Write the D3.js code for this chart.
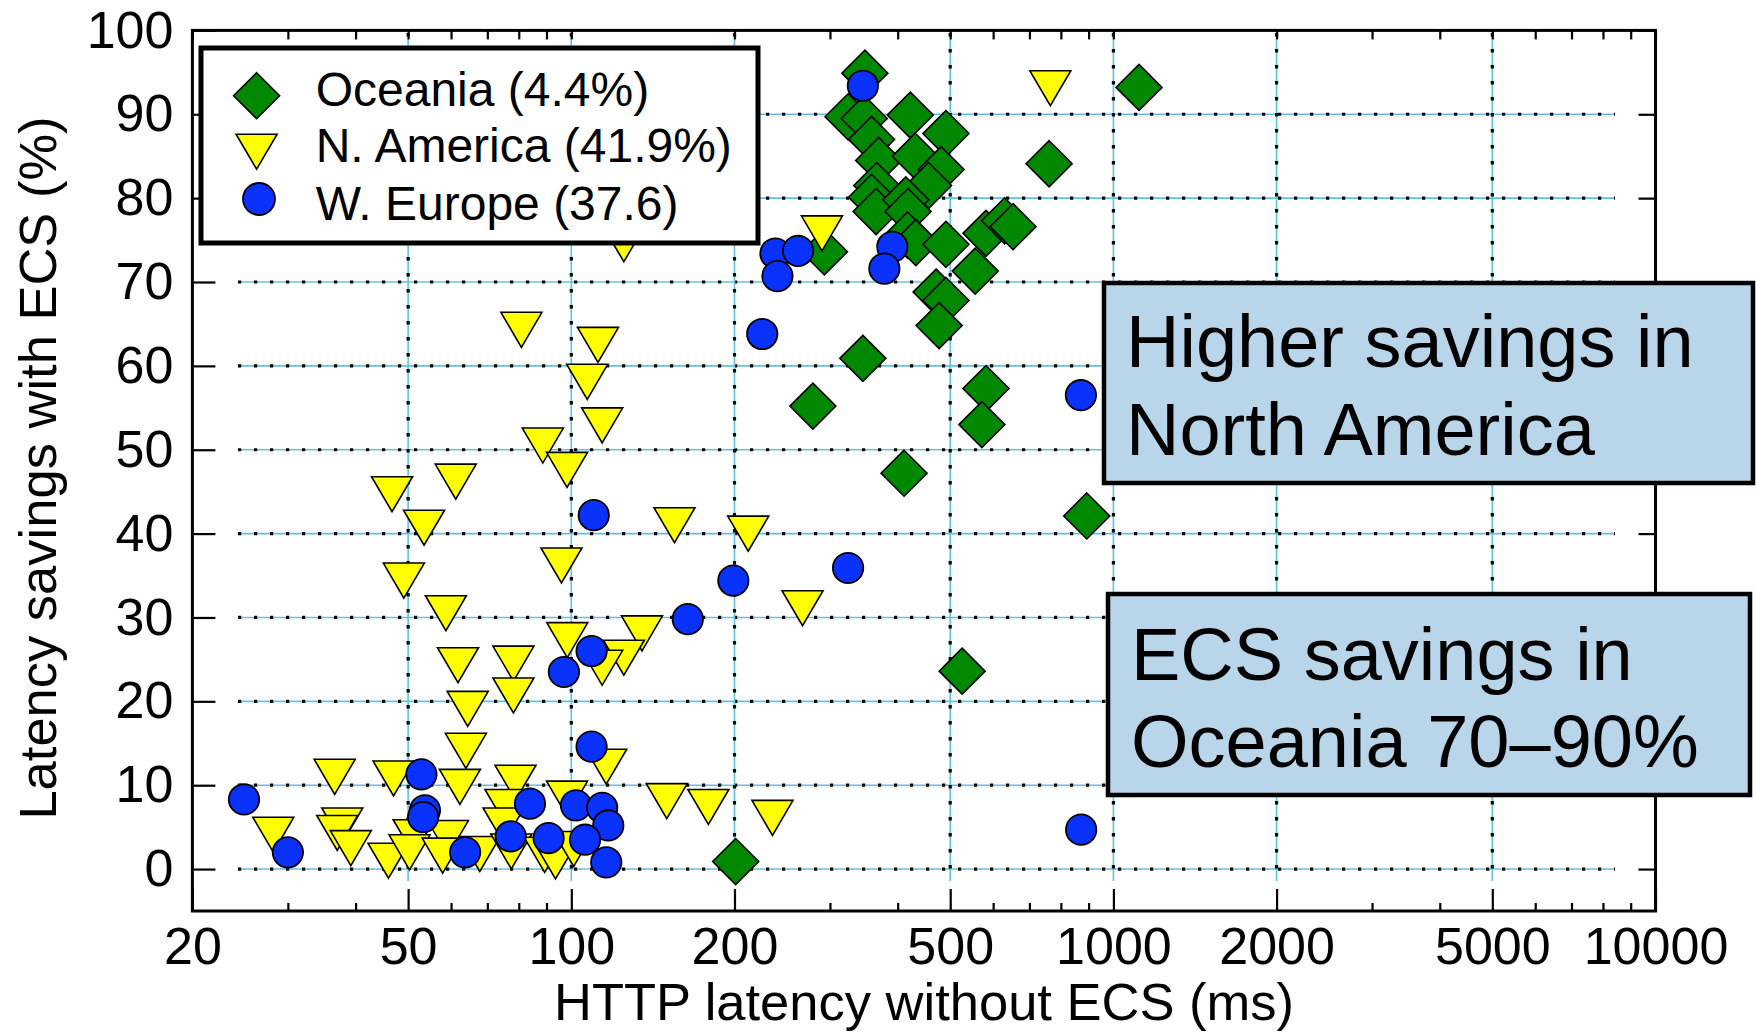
<!DOCTYPE html>
<html>
<head>
<meta charset="utf-8">
<script src="https://cdn.jsdelivr.net/npm/d3@7/dist/d3.min.js"></script>
<style>
  html, body { margin: 0; padding: 0; background: #fff; }
  svg { display: block; font-family: "Liberation Sans", Arial, Helvetica, sans-serif; }
</style>
</head>
<body>
<svg id="chart" width="1756" height="1035"></svg>
<script>
// [HTTP latency without ECS (ms), latency savings with ECS (%)]
const oceania = [
  [348, 94.9], [324, 89.7], [347, 89.5], [358, 87.0], [422, 89.9], [491, 87.7],
  [369, 84.5], [431, 85.0], [481, 83.4], [456, 81.5], [366, 81.5], [358, 80.1],
  [365, 78.4], [414, 79.8], [418, 78.4], [417, 75.6], [432, 74.7], [491, 74.5],
  [582, 75.8], [630, 77.3], [653, 76.6], [556, 71.3], [471, 68.8], [491, 67.8],
  [477, 64.8], [345, 60.9], [293, 73.6], [761, 84.1], [1115, 93.2], [279, 55.2],
  [582, 57.3], [572, 53.0], [411, 47.2], [893, 42.1], [526, 23.6], [201, 0.9]
];
const nAmerica = [
  [765, 93.1], [290, 75.8], [125, 74.5], [80.9, 64.3], [112, 62.5], [107, 58.1],
  [114, 52.9], [88.6, 50.5], [98.2, 47.6], [61.2, 46.2], [46.7, 44.7], [53.5, 40.7],
  [155, 41.0], [212, 40.0], [95.9, 36.2], [49.1, 34.4], [58.7, 30.5], [135, 28.1],
  [98.3, 27.3], [125, 25.2], [114, 24.0], [61.8, 24.3], [78.2, 24.5], [78.2, 20.7],
  [64.4, 19.1], [267, 31.1], [63.9, 14.1], [62.3, 9.8], [116, 12.2], [36.6, 11.0],
  [47.0, 10.8], [78.9, 10.3], [98.2, 8.4], [150, 8.1], [179, 7.4], [235, 6.1],
  [28.2, 4.1], [37.8, 5.2], [37.0, 4.3], [39.2, 2.5], [46.0, 1.0], [51.2, 3.8],
  [50.3, 2.0], [59.2, 3.7], [57.9, 1.6], [67.8, 1.8], [75.6, 7.4], [75.0, 5.2],
  [77.5, 2.1], [89.3, 1.7], [93.5, 0.9], [101, 2.4]
];
const wEurope = [
  [345, 93.4], [238, 73.4], [240, 70.7], [262, 73.7], [391, 74.2], [378, 71.6],
  [225, 63.8], [871, 56.5], [110, 42.2], [324, 35.9], [199, 34.4], [164, 29.8],
  [109, 26.0], [96.9, 23.5], [109, 14.6], [24.9, 8.3], [30.0, 2.0], [52.9, 11.3],
  [53.7, 7.0], [53.3, 6.2], [63.7, 2.0], [83.9, 7.8], [77.3, 3.9], [90.8, 3.7],
  [102, 7.6], [114, 7.3], [117, 5.2], [106, 3.5], [116, 0.8], [872, 4.7]
];

const xTickValues = [20, 50, 100, 200, 500, 1000, 2000, 5000, 10000];
const xTickLabels = ["20", "50", "100", "200", "500", "1000", "2000", "5000", "10000"];
const xMinorValues = [30, 40, 60, 70, 80, 90, 300, 400, 600, 700, 800, 900,
                      3000, 4000, 6000, 7000, 8000, 9000];
const yTickValues = [0, 10, 20, 30, 40, 50, 60, 70, 80, 90, 100];
const xGridValues = [50, 100, 200, 500, 1000, 2000, 5000];
const yGridValues = [0, 10, 20, 30, 40, 50, 60, 70, 80, 90];

const seriesNames = ["Oceania (4.4%)", "N. America (41.9%)", "W. Europe (37.6)"];
const xTitle = "HTTP latency without ECS (ms)";
const yTitle = "Latency savings with ECS (%)";
const noteNorthAmerica = ["Higher savings in", "North America"];
const noteOceania = ["ECS savings in", "Oceania 70\u201390%"];

// ---- layout ----
const frame = { left: 192.4, right: 1655.5, top: 30.4, bottom: 911 };
const x = d3.scaleLog().domain([20, 10000]).range([frame.left, frame.right]);
const y = d3.scaleLinear().domain([-5, 100]).range([frame.bottom, frame.top]);

const colors = { oceania: "#008800", america: "#ffff00", europe: "#0a32ff" };
const gridCyan = "#5cc3e4";

const svg = d3.select("#chart");

// ---- marker shapes ----
const diamondPath = r => `M0,${-r}L${r},0L0,${r}L${-r},0Z`;
const triDownPath = (hw, hh) => `M${-hw},${-hh}L${hw},${-hh}L0,${hh}Z`;

// ---- grid ----
const grid = svg.append("g");
yGridValues.forEach(v => {
  const yy = y(v);
  grid.append("line").attr("x1", 238).attr("x2", 1615).attr("y1", yy).attr("y2", yy)
    .attr("stroke", gridCyan).attr("stroke-width", 1.6);
  grid.append("line").attr("x1", 238).attr("x2", 1615).attr("y1", yy).attr("y2", yy)
    .attr("stroke", "#000").attr("stroke-width", 3.2).attr("stroke-dasharray", "3.2 12.8");
});
xGridValues.forEach(v => {
  const xx = x(v);
  grid.append("line").attr("x1", xx).attr("x2", xx).attr("y1", 33).attr("y2", 881)
    .attr("stroke", gridCyan).attr("stroke-width", 1.6);
  grid.append("line").attr("x1", xx).attr("x2", xx).attr("y1", 33).attr("y2", 881)
    .attr("stroke", "#000").attr("stroke-width", 3.2).attr("stroke-dasharray", "3.6 12.4");
});

// ---- axes (ticks pointing inward) ----
const axisStyle = g => {
  g.select(".domain").remove();
  g.selectAll(".tick line").attr("stroke", "#000").attr("stroke-width", 2.2);
};

svg.append("g").attr("transform", `translate(0,${frame.bottom})`)
  .call(d3.axisBottom(x).tickValues(xTickValues)
    .tickFormat((d, i) => xTickLabels[i]).tickSizeInner(-22).tickSizeOuter(0).tickPadding(16))
  .call(axisStyle)
  .call(g => g.selectAll("text").attr("font-size", 52).attr("fill", "#000")
    .attr("font-family", "Liberation Sans, Arial, sans-serif"));

svg.append("g").attr("transform", `translate(0,${frame.bottom})`)
  .call(d3.axisBottom(x).tickValues(xMinorValues).tickFormat("").tickSizeInner(-8).tickSizeOuter(0))
  .call(axisStyle);

svg.append("g").attr("transform", `translate(0,${frame.top})`)
  .call(d3.axisTop(x).tickValues(xTickValues.concat(xMinorValues)).tickFormat("")
    .tickSizeInner(-9).tickSizeOuter(0))
  .call(axisStyle);

svg.append("g").attr("transform", `translate(${frame.left},0)`)
  .call(d3.axisLeft(y).tickValues(yTickValues).tickFormat(d3.format("d"))
    .tickSizeInner(-23).tickSizeOuter(0).tickPadding(19))
  .call(axisStyle)
  .call(g => g.selectAll("text").attr("font-size", 52).attr("fill", "#000")
    .attr("font-family", "Liberation Sans, Arial, sans-serif"));

svg.append("g").attr("transform", `translate(${frame.right},0)`)
  .call(d3.axisRight(y).tickValues(yTickValues).tickFormat("").tickSizeInner(-17).tickSizeOuter(0))
  .call(axisStyle);

// ---- plot frame ----
svg.append("rect")
  .attr("x", frame.left).attr("y", frame.top)
  .attr("width", frame.right - frame.left).attr("height", frame.bottom - frame.top)
  .attr("fill", "none").attr("stroke", "#000").attr("stroke-width", 3);

// ---- axis titles ----
svg.append("text").attr("x", 924).attr("y", 1020).attr("text-anchor", "middle")
  .attr("font-size", 52.5).attr("fill", "#000").text(xTitle);
svg.append("text").attr("transform", "translate(56,468) rotate(-90)").attr("text-anchor", "middle")
  .attr("font-size", 52.5).attr("fill", "#000").text(yTitle);

// ---- data series ----
const pts = svg.append("g");
pts.append("g").selectAll("path").data(oceania).join("path")
  .attr("transform", d => `translate(${x(d[0])},${y(d[1])})`)
  .attr("d", diamondPath(23))
  .attr("fill", colors.oceania).attr("stroke", "#000").attr("stroke-width", 1.6);

pts.append("g").selectAll("path").data(nAmerica).join("path")
  .attr("transform", d => `translate(${x(d[0])},${y(d[1])})`)
  .attr("d", triDownPath(20.5, 17.5))
  .attr("fill", colors.america).attr("stroke", "#000").attr("stroke-width", 1.6)
  .attr("stroke-linejoin", "miter");

pts.append("g").selectAll("circle").data(wEurope).join("circle")
  .attr("cx", d => x(d[0])).attr("cy", d => y(d[1])).attr("r", 15.2)
  .attr("fill", colors.europe).attr("stroke", "#000").attr("stroke-width", 1.8);

// ---- legend ----
const legend = svg.append("g");
legend.append("rect").attr("x", 201).attr("y", 48).attr("width", 557).attr("height", 195)
  .attr("fill", "#fff").attr("stroke", "#000").attr("stroke-width", 5);
const legendRows = [
  { cy: 95.7, base: 105.5, kind: "diamond" },
  { cy: 151.7, base: 162, kind: "triangle" },
  { cy: 199, base: 219.5, kind: "circle" }
];
legendRows.forEach((r, i) => {
  if (r.kind === "diamond") {
    legend.append("path").attr("transform", `translate(256.6,${r.cy})`).attr("d", diamondPath(23))
      .attr("fill", colors.oceania).attr("stroke", "#000").attr("stroke-width", 1.6);
  } else if (r.kind === "triangle") {
    legend.append("path").attr("transform", `translate(256.6,${r.cy})`).attr("d", triDownPath(20.5, 17.5))
      .attr("fill", colors.america).attr("stroke", "#000").attr("stroke-width", 1.6);
  } else {
    legend.append("circle").attr("cx", 259).attr("cy", r.cy).attr("r", 16)
      .attr("fill", colors.europe).attr("stroke", "#000").attr("stroke-width", 1.8);
  }
  legend.append("text").attr("x", 315.7).attr("y", r.base).attr("font-size", 48)
    .attr("fill", "#000").text(seriesNames[i]);
});

// ---- annotation boxes ----
function note(bx, by, bw, bh, tx, baselines, lines) {
  const g = svg.append("g");
  g.append("rect").attr("x", bx).attr("y", by).attr("width", bw).attr("height", bh)
    .attr("fill", "#b9d5e9").attr("stroke", "#000").attr("stroke-width", 4.5);
  lines.forEach((t, i) => {
    g.append("text").attr("x", tx).attr("y", baselines[i]).attr("font-size", 74)
      .attr("fill", "#000").text(t);
  });
}
note(1104, 283, 649, 200, 1126, [367, 455], noteNorthAmerica);
note(1108, 594, 642, 201, 1131, [680, 767], noteOceania);
</script>
</body>
</html>
